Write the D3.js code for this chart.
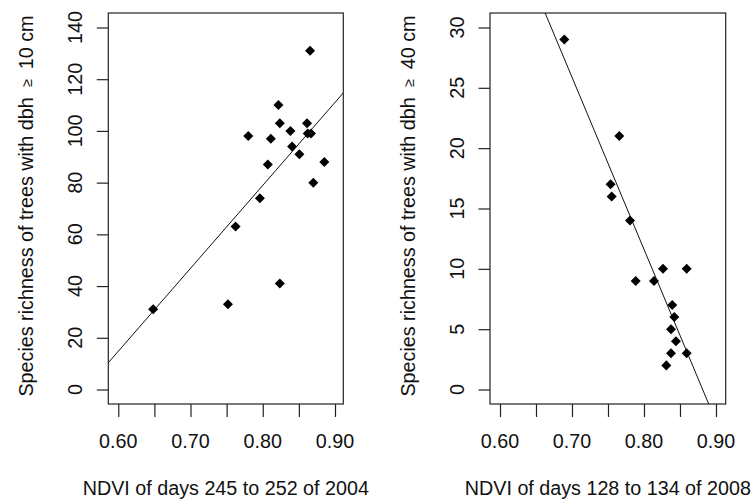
<!DOCTYPE html>
<html><head><meta charset="utf-8">
<script src="https://cdn.jsdelivr.net/npm/d3@7"></script>
<style>body{margin:0;background:#fff}svg{display:block}text{font-family:"Liberation Sans",Arial,sans-serif;fill:#111}</style>
</head><body>
<script>
// Panel 1: NDVI days 245-252 of 2004 vs richness dbh >= 10 cm
const ndvi2004 = [0.6483,0.7518,0.7624,0.7799,0.7960,0.8070,0.8112,0.8217,0.8236,0.8236,0.8383,0.8406,0.8507,0.8613,0.8622,0.8668,0.8655,0.8700,0.8852];
const rich10   = [31,33,63,98,74,87,97,110,103,41,100,94,91,103,99,99,131,80,88];
const fit10 = [-177.7, 320.8]; // intercept, slope
// Panel 2: NDVI days 128-134 of 2008 vs richness dbh >= 40 cm
const ndvi2008 = [0.6893,0.7536,0.7551,0.7657,0.7806,0.7885,0.8139,0.8264,0.8310,0.8375,0.8375,0.8393,0.8421,0.8444,0.8593,0.8593];
const rich40   = [29,17,16,21,14,9,9,10,2,5,3,7,6,4,10,3];
const fit40 = [125.7, -142.6];
const xTicks = [0.60,0.65,0.70,0.75,0.80,0.85,0.90];
const xLabels = [0.60,0.70,0.80,0.90];
const yTicks10 = [0,20,40,60,80,100,120,140];
const yTicks40 = [0,5,10,15,20,25,30];

const W=751,H=502;
const svg=d3.select("body").append("svg").attr("width",W).attr("height",H);
const FS=21, SX=0.94;

function panel(o){
  const x=d3.scaleLinear().domain(o.xd).range([o.left,o.right]);
  const y=d3.scaleLinear().domain(o.yd).range([404,13]);
  const g=svg.append("g");
  const cid="clip"+o.id;
  svg.append("clipPath").attr("id",cid).append("rect")
    .attr("x",o.left).attr("y",13).attr("width",o.right-o.left).attr("height",391);
  const xa=g.append("g").attr("transform","translate(0,404)")
    .call(d3.axisBottom(x).tickValues(xTicks).tickSize(13).tickFormat(""));
  const ya=g.append("g").attr("transform",`translate(${o.left},0)`)
    .call(d3.axisLeft(y).tickValues(o.yt).tickSize(11.5).tickFormat(""));
  [xa,ya].forEach(a=>{a.select(".domain").remove();a.selectAll("line").attr("stroke","#222").attr("stroke-width",1.2);});
  g.selectAll(".xl").data(xLabels).join("text")
    .attr("transform",d=>`translate(${x(d)},448) scale(${SX},1)`)
    .attr("text-anchor","middle").attr("font-size",FS).text(d=>d.toFixed(2));
  g.selectAll(".yl").data(o.yt).join("text")
    .attr("transform",d=>`translate(${o.left-26.5},${y(d)}) rotate(-90) scale(${SX},1)`)
    .attr("text-anchor","middle").attr("font-size",FS).text(d=>d);
  g.append("rect").attr("x",o.left).attr("y",13).attr("width",o.right-o.left).attr("height",391)
    .attr("fill","none").attr("stroke","#222").attr("stroke-width",1.2);
  const [b0,b1]=o.fit;
  g.append("line").attr("clip-path",`url(#${cid})`)
    .attr("x1",x(o.xd[0])).attr("y1",y(b0+b1*o.xd[0]))
    .attr("x2",x(o.xd[1])).attr("y2",y(b0+b1*o.xd[1]))
    .attr("stroke","#111").attr("stroke-width",1);
  const pts=o.xs.map((v,i)=>[v,o.ys[i]]);
  g.selectAll(".pt").data(pts).join("path")
    .attr("d",d3.symbol(d3.symbolDiamond2,64)())
    .attr("transform",d=>`translate(${x(d[0])},${y(d[1])})`)
    .attr("fill","#000");
  g.append("text").attr("transform",`translate(${(o.left+o.right)/2},495) scale(${SX},1)`)
    .attr("text-anchor","middle").attr("font-size",FS).text(o.xt);
  const t=g.append("text").attr("transform",`translate(${o.left-75.5},206) rotate(-90) scale(${SX},1)`)
    .attr("text-anchor","middle").attr("font-size",FS);
  t.append("tspan").text("Species richness of trees with dbh ");
  t.append("tspan").attr("font-size",15).attr("dx",5).attr("dy",-1).text("\u2265");
  t.append("tspan").attr("dx",5).attr("dy",1).text(" "+o.yl);
}

panel({id:1,left:108.3,right:343.3,xd:[0.5862,0.9115],yd:[-5.6,145.6],yt:yTicks10,
  xs:ndvi2004,ys:rich10,fit:fit10,xt:"NDVI of days 245 to 252 of 2004",yl:"10 cm"});
panel({id:2,left:490,right:725.7,xd:[0.5861,0.9135],yd:[-1.2,31.2],yt:yTicks40,
  xs:ndvi2008,ys:rich40,fit:fit40,xt:"NDVI of days 128 to 134 of 2008",yl:"40 cm"});
</script>
</body></html>
